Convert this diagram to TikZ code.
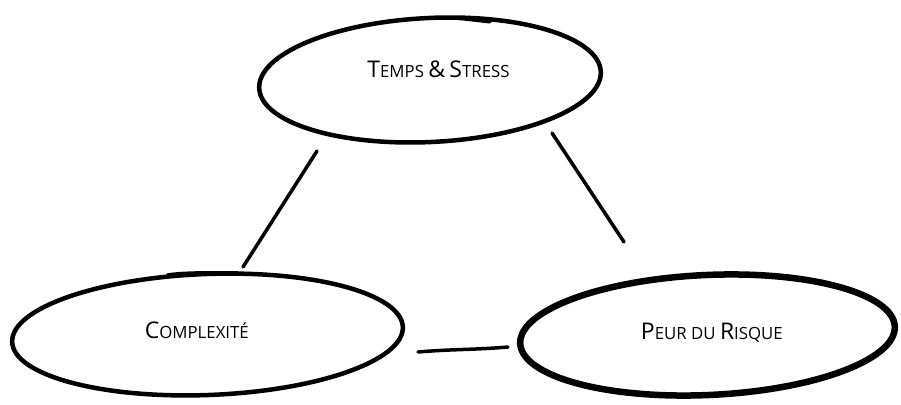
\documentclass[tikz,border=0pt]{standalone}
\usepackage{fontspec}
\setmainfont{Open Sans}
\usepackage{graphicx}
\usetikzlibrary{shapes.geometric, calc}
\newcommand{\Ini}[1]{{\fontsize{23}{25}\selectfont #1}}
\tikzstyle{bubble} = [ellipse, draw, line width=4.5pt, text height=16pt,
    font=\fontsize{16.8}{18}\selectfont]
\tikzstyle{link} = [draw, line width=3.5pt, line cap=round]

\begin{document}
\begin{tikzpicture}[x=1pt, y=1pt]
                \useasboundingbox (0,0) rectangle (901,404);
                \node [bubble, rotate=2.8, minimum width=342pt, minimum height=124pt, text depth=28pt] at (430,324) (temps)
                    {\rotatebox{-2.8}{\hspace*{18pt}\Ini{T}EMPS \Ini{\&} \Ini{S}TRESS}};
                \node [bubble, rotate=2.2, minimum width=391pt, minimum height=121pt, text depth=13.2pt] at (207.5,69.5) (complex)
                    {\rotatebox{-2.2}{\Ini{C}OMPLEXITÉ\hspace*{21pt}}};
                \node [bubble, rotate=2.6, line width=6.5pt, minimum width=375pt, minimum height=120pt, text depth=14.8pt] at (707.5,69) (risque)
                    {\rotatebox{-2.6}{\hspace*{9pt}\Ini{P}EUR DU \Ini{R}ISQUE}};
                % heavier strokes where the pen went over twice
                \path [link, line width=3pt] ($(temps)+(-5,62)$) .. controls +(30,1) and +(-20,2) .. ($(temps)+(60,58)$);
                \path [link, line width=2.5pt] ($(complex)+(-40,60)$) .. controls +(20,3) and +(-20,0) .. ($(complex)+(30,62)$);
                \path [link] ($(temps)+(-113,-71)$) -- ($(complex)+(35.5,67.5)$);
                \path [link] ($(temps)+(122,-53)$) -- ($(risque)+(-83.5,93)$);
                \path [link] ($(complex)+(210.5,-17.5)$) .. controls +(35,3) and +(-35,-3) .. ($(risque)+(-199.5,-12)$);
            \end{tikzpicture}
\end{document}
